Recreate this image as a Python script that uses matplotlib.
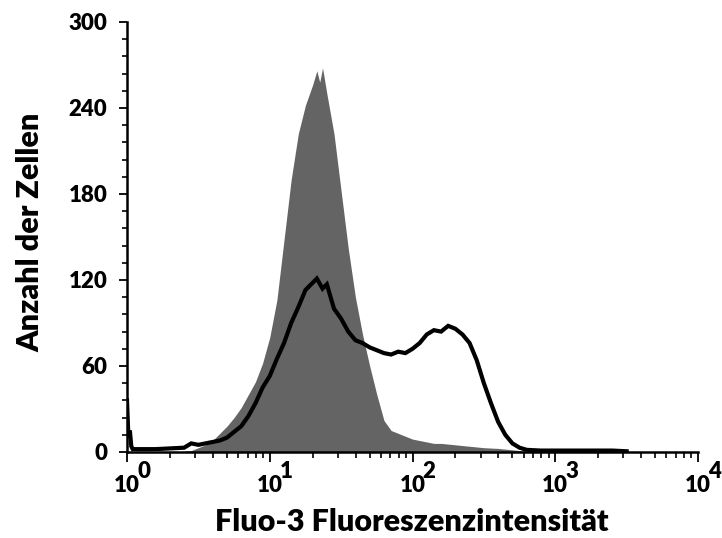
import matplotlib
matplotlib.use('Agg')
import matplotlib.pyplot as plt
from matplotlib.ticker import LogLocator, MultipleLocator, NullFormatter
import numpy as np

# log10 fluorescence positions and cell counts
gray_log = [0.40, 0.45, 0.50, 0.55, 0.60, 0.65, 0.70, 0.75, 0.80, 0.85,
            0.90, 0.95, 1.00, 1.05, 1.10, 1.15, 1.20, 1.25, 1.30, 1.33,
            1.35, 1.37, 1.40, 1.45, 1.50, 1.55, 1.60, 1.65, 1.70, 1.75,
            1.80, 1.85, 1.90, 1.95, 2.00, 2.05, 2.10, 2.15, 2.20, 2.30,
            2.40, 2.50, 2.60, 2.70, 2.80, 2.90]
gray_count = [0.5, 1, 3, 5, 8, 13, 18, 24, 31, 40,
              49, 62, 80, 106, 148, 190, 222, 242, 256, 266,
              258, 268, 250, 222, 182, 142, 108, 82, 60, 40,
              22, 15, 13, 11, 9, 8, 7, 6, 6, 5,
              4, 3, 2.5, 1.5, 0.5, 0]

black_log = [0.00, 0.01, 0.02, 0.03, 0.04, 0.10, 0.20, 0.30, 0.40, 0.45,
             0.50, 0.55, 0.60, 0.65, 0.70, 0.75, 0.80, 0.85, 0.90, 0.95,
             1.00, 1.05, 1.10, 1.15, 1.20, 1.25, 1.30, 1.33, 1.37, 1.40,
             1.45, 1.50, 1.55, 1.60, 1.65, 1.70, 1.75, 1.80, 1.85, 1.90,
             1.95, 2.00, 2.05, 2.10, 2.15, 2.20, 2.25, 2.30, 2.35, 2.40,
             2.45, 2.50, 2.55, 2.60, 2.65, 2.70, 2.75, 2.80, 2.90, 3.00,
             3.20, 3.40, 3.50]
black_count = [36, 10, 15, 4, 2, 2, 2, 2.5, 3, 6,
               5, 6, 7, 8, 10, 14, 18, 25, 34, 45,
               53, 65, 76, 90, 101, 113, 118, 121, 114, 117,
               100, 93, 84, 78, 76, 73, 71, 69, 68, 70,
               69, 72, 76, 82, 85, 84, 88, 86, 82, 76,
               64, 48, 34, 21, 12, 6, 3, 1.5, 1, 1,
               1, 1, 0.5]

exponents = [0, 1, 2, 3, 4]

plt.rcParams['font.family'] = 'Lato'
plt.rcParams['font.weight'] = 'bold'

fig = plt.figure(figsize=(7.22, 5.38), dpi=100)
ax = fig.add_axes([127 / 722, 86 / 538, 571 / 722, 430 / 538])

gx = 10 ** np.array(gray_log)
bx = 10 ** np.array(black_log)
ax.fill_between(gx, 0, gray_count, color='#646464', lw=0)
ax.plot(bx, black_count, color='black', lw=3.0, solid_joinstyle='miter')

ax.set_xscale('log')
ax.set_xlim(1, 1e4)
ax.set_ylim(0, 300)

for s in ['top', 'right']:
    ax.spines[s].set_visible(False)
for s in ['left', 'bottom']:
    ax.spines[s].set_linewidth(1.8)

ax.yaxis.set_major_locator(MultipleLocator(60))
ax.yaxis.set_minor_locator(MultipleLocator(12))
ax.xaxis.set_major_locator(LogLocator(base=10))
ax.xaxis.set_minor_locator(LogLocator(base=10, subs=np.arange(2, 10)))
ax.xaxis.set_major_formatter(NullFormatter())
ax.xaxis.set_minor_formatter(NullFormatter())
ax.tick_params(axis='y', which='major', length=6, width=1.3, labelsize=16, pad=8)
ax.tick_params(axis='y', which='minor', length=3.5, width=1.2)
ax.tick_params(axis='x', which='major', length=7, width=1.3)
ax.tick_params(axis='x', which='minor', length=4.5, width=1.2)
for lab in ax.get_yticklabels():
    lab.set_fontweight('heavy')

# x tick labels as 10 with exponent
for e in exponents:
    ax.annotate('10', xy=(10 ** e, 0), xycoords=('data', 'axes fraction'),
                xytext=(0, -24), textcoords='offset points',
                ha='center', va='center', fontsize=16, fontweight='heavy')
    ax.annotate(str(e), xy=(10 ** e, 0), xycoords=('data', 'axes fraction'),
                xytext=(12, -14), textcoords='offset points',
                ha='center', va='center', fontsize=16, fontweight='heavy')

fig.text(412 / 722, 1 - 522 / 538, 'Fluo-3 Fluoreszenzintensität',
         ha='center', va='center', fontsize=22, fontweight='heavy')
fig.text(30 / 722, 1 - 232 / 538, 'Anzahl der Zellen', rotation=90,
         ha='center', va='center', fontsize=22, fontweight='heavy')

fig.savefig('out.png', dpi=100)
